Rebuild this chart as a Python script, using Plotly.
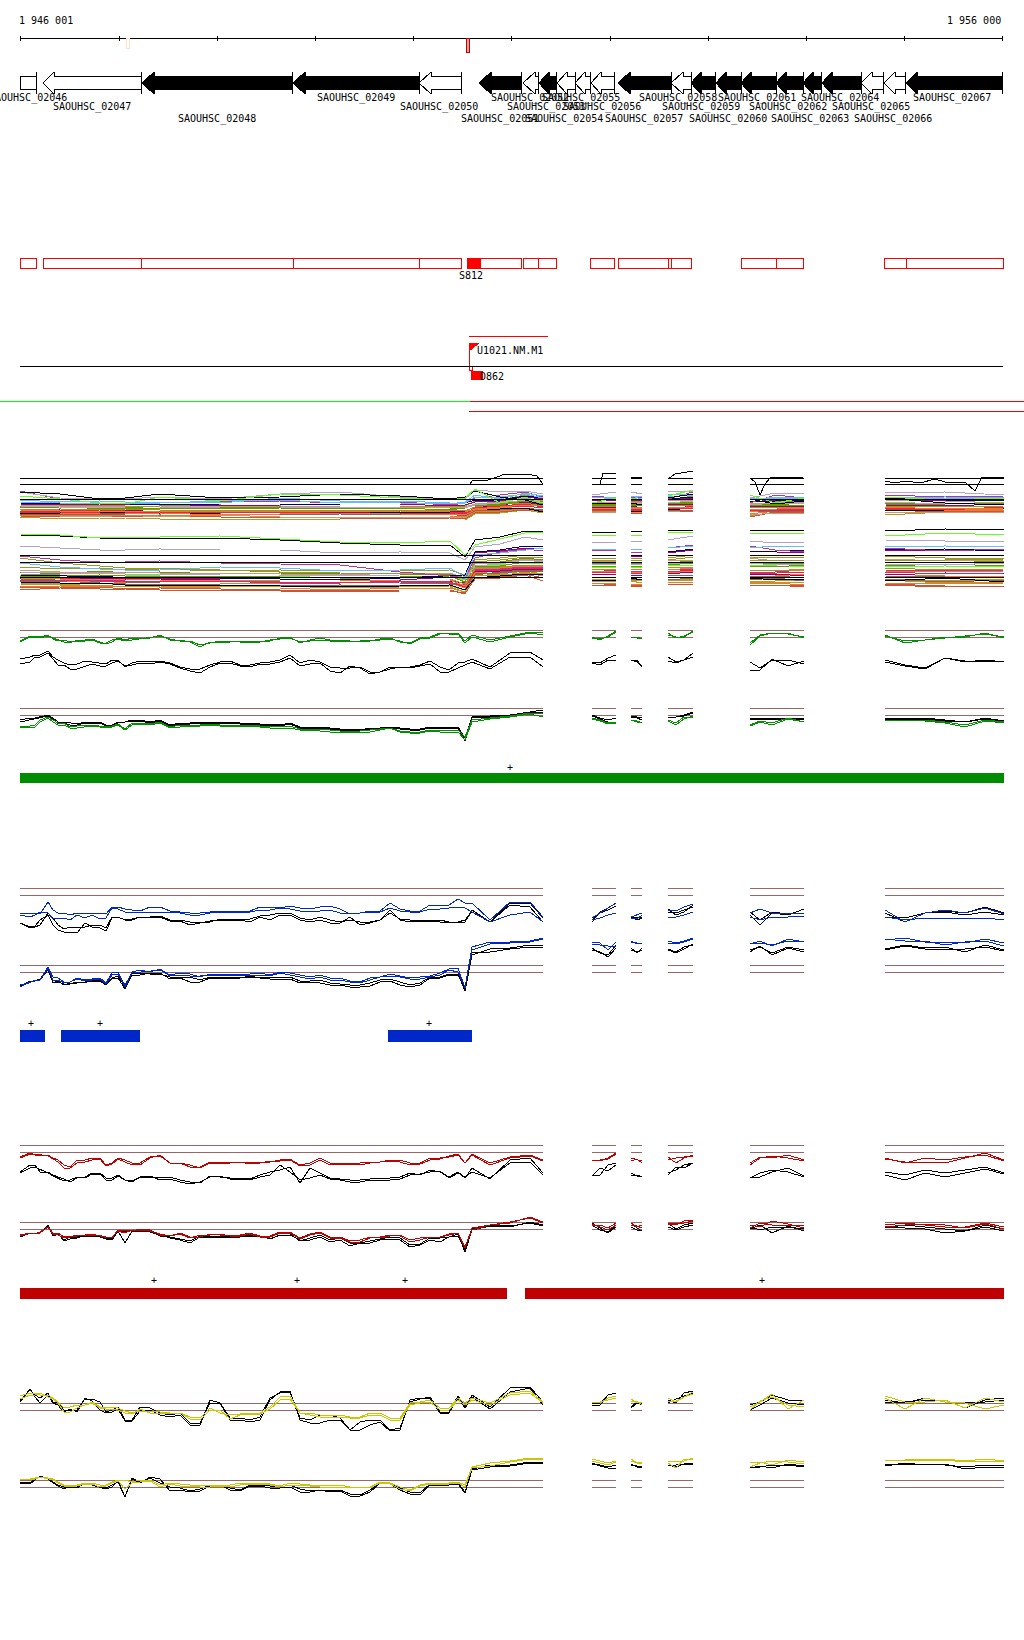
import plotly.graph_objects as go

# ---------- ruler ----------
RULER_TICKS = [20, 119, 217, 315, 413, 511, 610, 708, 806, 904, 1002]
RULER_Y = 38
RULER_LABELS = ["1 946 001", "1 956 000"]

# ---------- genes ----------
GENE_NAMES = ["SAOUHSC_020%d" % n for n in range(46, 68)]
GENE_LEFT = [20, 43, 142, 293, 419, 479, 523, 539, 557, 575, 591, 618, 671, 691, 716, 741, 776, 803, 822, 861, 884, 906]
GENE_RIGHT = [36, 141, 292, 419, 461, 521, 538, 556, 575, 590, 614, 671, 691, 715, 741, 776, 803, 821, 861, 883, 905, 1002]
GENE_FILLED = [0, 0, 1, 1, 0, 1, 0, 1, 0, 0, 0, 1, 0, 1, 1, 1, 1, 1, 1, 0, 0, 1]
GENE_HEAD = [0, 11, 12, 12, 12, 12, 12, 10, 10, 10, 10, 12, 12, 10, 10, 10, 10, 10, 10, 11, 11, 11]
GENE_LABEL_X = [67, 53, 178, 317, 400, 461, 491, 507, 525, 542, 563, 605, 639, 662, 689, 718, 749, 771, 801, 832, 854, 913]
GENE_LABEL_Y = [98, 107, 119]

# ---------- red boxes track ----------
BOX_LEFT = [20, 43, 141, 293, 419, 467, 523, 538, 590, 618, 668, 671, 741, 776, 884, 906]
BOX_RIGHT = [36, 141, 293, 419, 461, 521, 538, 556, 614, 668, 671, 691, 776, 803, 906, 1003]
BOX_FILL_RANGE = [467, 480]

# ---------- coloured bars ----------
BAR_GREEN = [[20, 1003]]
BAR_BLUE = [[20, 44], [61, 139], [388, 471]]
BAR_RED = [[20, 506], [525, 1003]]
PLUS_GREEN = [510]
PLUS_BLUE = [31, 100, 429]
PLUS_RED = [154, 297, 405, 762]

# ---------- segments and reference lines ----------
SEG_START = [20, 592, 631, 668, 750, 885]
SEG_END = [543, 616, 642, 693, 804, 1004]
REF_Y = [630, 637, 708, 715, 888, 895, 965, 972, 1145, 1152, 1222, 1229, 1403, 1410, 1480, 1487]
BUNDLE_BLACK_Y = [478, 484, 499, 555, 562, 577]

# ---------- knots of profile tracks ----------
K_LEFT = [20, 30, 40, 48, 58, 70, 85, 100, 112, 125, 140, 160, 180, 200, 220, 240, 260, 280, 300, 320, 340, 360, 380,
          400, 420, 440, 458, 465, 472, 490, 510, 530, 543]
K_MID = [35, 53, 64, 77, 92, 106, 118, 132, 150, 170, 190, 210, 230, 250, 270, 290, 310, 330, 350, 370, 390, 410, 430, 449]
K_RIGHT = [[592, 600, 608, 616], [631, 637, 642], [668, 676, 684, 693], [750, 760, 772, 788, 804],
           [885, 905, 925, 945, 965, 985, 1004]]

# ---------- green panels ----------
G1_BLACK_A = [659,657,655,651,660,665,661,663,660,667,661,661,667,669,662,665,663,660,663,662,668,667,672,667,665,667,663,662,659,667,653,652,660,
              662,663,658,655,660,660,667,657,662,660,653,662,668,660,660,664,660,665,668,658,662,660,662]
G1_BLACK_A_MID = [655,657,663,664,662,664,660,663,662,663,669,665,661,665,662,655,660,667,668,672,667,667,661,670]
G1_BLACK_B = [664,662,657,653,665,669,666,666,663,666,663,662,668,673,663,666,664,662,666,663,673,668,672,667,666,672,668,665,662,669,657,657,667,
              663,665,660,660,660,662,666,661,663,660,657,670,670,659,666,661,662,666,669,658,661,661,662]
G1_BLACK_B_MID = [657,659,665,669,664,666,661,665,664,664,671,667,663,667,664,658,664,671,666,674,669,668,664,672]
G1_GREEN_A = [642,637,638,636,640,643,640,642,642,640,638,635,640,647,642,641,641,638,643,638,640,642,639,642,638,633,634,643,637,642,637,633,635,
              638,639,637,632,637,638,638,633,638,636,632,643,635,633,633,638,635,643,640,637,637,633,638]
G1_GREEN_A_MID = [637,638,642,640,639,644,638,638,638,640,642,642,642,641,641,637,640,640,641,641,638,643,637,634]
G1_GREEN_B = [641,636,637,635,641,642,641,643,640,641,639,636,641,645,641,642,642,639,642,640,641,641,640,641,639,634,633,641,635,640,636,632,632,
              637,640,636,631,637,637,639,635,637,637,631,645,636,633,634,637,636,641,640,638,636,634,637]
G1_GREEN_B_MID = [636,639,640,641,640,643,639,640,637,639,641,643,641,642,640,638,641,641,642,640,639,644,638,633]
G2_BLACK_A = [720,718,717,715,722,723,722,722,725,722,720,720,723,722,723,723,724,725,727,727,729,730,728,728,729,727,727,738,717,716,715,712,710,
              715,718,720,718,716,717,718,717,717,715,712,718,718,718,718,718,719,718,718,720,722,718,721]
G2_BLACK_A_MID = [718,718,722,724,722,725,722,720,722,725,723,722,722,723,724,723,727,728,729,728,727,729,727,727]
G2_BLACK_B = [722,720,718,716,724,725,723,723,726,722,721,721,724,723,724,724,725,726,728,728,730,731,729,729,730,728,728,741,718,717,716,713,712,
              716,719,722,722,717,718,720,718,717,716,713,719,719,719,719,720,720,719,719,721,722,719,722]
G2_BLACK_B_MID = [719,719,723,725,723,726,723,721,723,726,724,723,723,724,725,724,728,729,730,729,728,730,728,728]
G2_GREEN_A = [728,727,722,718,725,728,727,727,727,730,724,723,727,726,726,727,727,728,730,731,732,733,730,732,733,732,732,740,722,719,717,714,717,
              718,720,723,722,720,722,722,720,723,717,717,725,721,723,718,722,720,720,720,722,725,720,722]
G2_GREEN_A_MID = [727,722,725,728,726,728,725,725,725,728,726,725,726,726,728,728,730,732,732,732,728,733,731,732]
G2_GREEN_B = [726,726,720,717,723,727,725,726,726,729,723,722,725,725,725,725,726,727,729,729,731,731,729,731,732,730,730,737,720,718,716,713,714,
              719,721,724,723,720,721,723,721,725,719,716,726,722,725,719,722,721,720,721,723,727,721,723]
G2_GREEN_B_MID = [725,720,723,726,725,727,724,723,724,727,725,724,725,725,726,726,729,730,731,730,728,732,730,730]

# ---------- blue panels ----------
B1_BLACK_A = [923,928,925,913,925,927,927,925,917,920,917,916,920,922,919,919,916,913,918,917,922,922,920,919,920,920,922,922,910,922,903,903,918,
              922,912,908,903,917,918,917,912,913,910,907,912,920,912,914,913,913,922,913,912,915,912,915]
B1_BLACK_A_MID = [927,918,929,927,925,928,917,920,917,920,922,922,919,919,915,913,920,920,920,922,913,920,920,922]
B1_BLACK_B = [923,927,920,915,930,932,923,928,918,920,917,917,921,923,920,920,917,915,920,920,923,925,920,920,921,922,922,920,912,922,905,907,922,
              920,913,910,906,916,920,918,909,915,912,905,915,925,913,915,909,917,918,913,911,913,907,913]
B1_BLACK_B_MID = [926,925,932,933,927,931,917,919,918,921,925,921,921,922,920,915,922,923,917,923,910,922,921,923]
B1_BLUE_A = [913,913,914,902,913,915,913,913,907,909,911,907,912,913,911,911,907,908,908,907,909,913,911,909,911,906,899,903,903,920,902,902,917,
             918,913,908,903,917,915,913,910,911,907,904,913,909,913,913,913,910,922,913,910,913,908,914]
B1_BLUE_A_MID = [913,910,913,913,913,914,907,910,907,911,913,912,911,911,907,906,909,906,914,911,903,911,905,905]
B1_BLUE_B = [915,917,912,913,918,920,918,919,908,912,912,912,913,915,912,912,910,908,911,911,913,913,912,911,912,909,907,908,912,922,915,912,922,
             920,918,915,913,918,919,915,917,917,915,912,917,920,917,917,916,917,920,918,918,919,918,920]
B1_BLUE_B_MID = [915,919,918,915,915,918,909,912,912,912,915,913,912,912,910,909,911,910,913,912,908,912,909,908]
B2_BLACK_A = [987,982,980,970,982,984,983,980,978,987,973,974,977,980,977,977,977,977,981,980,984,985,980,982,983,977,974,991,955,949,948,945,945,
              948,953,955,945,948,953,948,949,952,947,945,950,947,953,947,950,950,946,949,950,949,947,951]
B2_BLACK_A_MID = [980,982,984,982,980,984,976,974,974,977,977,977,977,977,977,977,981,983,985,983,979,985,977,974]
B2_BLACK_B = [986,981,979,969,981,983,982,981,979,989,975,973,978,982,978,978,978,980,983,983,985,987,982,985,985,978,975,989,953,952,949,947,947,
              950,952,957,948,950,952,950,950,953,949,944,952,946,955,948,952,949,945,948,947,952,945,950]
B2_BLACK_B_MID = [981,983,985,983,981,985,978,975,973,979,982,978,979,976,979,979,982,985,987,986,981,987,978,975]
B2_BLUE_A = [987,982,980,967,978,982,980,978,973,987,970,969,973,977,974,974,973,972,975,975,978,982,977,976,977,973,968,988,947,942,942,941,938,
             942,943,950,942,942,943,943,941,943,941,938,944,941,946,939,942,939,941,941,945,942,941,946]
B2_BLUE_A_MID = [980,977,982,978,979,983,972,972,972,975,974,974,974,974,975,973,977,978,981,978,974,978,976,969]
B2_BLUE_B = [985,982,980,968,980,982,981,979,975,985,972,970,975,976,975,975,975,973,977,977,980,983,977,977,979,975,972,987,950,944,943,942,939,
             944,945,946,946,941,944,943,943,944,942,939,943,943,945,941,941,940,938,942,942,943,939,943]
B2_BLUE_B_MID = [981,980,983,979,980,984,974,973,971,976,976,975,975,975,976,975,979,980,982,980,976,979,977,970]

# ---------- red panels ----------
R1_BLACK_A = [1172,1165,1172,1172,1177,1182,1177,1173,1178,1180,1177,1178,1180,1183,1177,1178,1175,1170,1183,1173,1179,1180,1178,1177,1175,1172,1172,1178,1168,1179,1160,1158,1173,
              1176,1175,1165,1163,1173,1176,1177,1173,1170,1165,1163,1178,1173,1170,1172,1177,1172,1175,1170,1173,1170,1167,1173]
R1_BLACK_A_MID = [1165,1175,1179,1178,1173,1178,1175,1181,1177,1177,1182,1176,1178,1179,1172,1167,1168,1178,1180,1179,1178,1173,1170,1177]
R1_BLACK_B = [1173,1168,1169,1173,1178,1180,1178,1174,1180,1180,1177,1180,1182,1182,1176,1179,1177,1165,1180,1175,1180,1182,1180,1179,1174,1171,1173,1177,1172,1178,1163,1162,1175,
              1176,1168,1171,1165,1175,1175,1177,1175,1167,1168,1163,1177,1177,1172,1168,1176,1175,1180,1173,1177,1173,1169,1174]
R1_BLACK_B_MID = [1167,1176,1181,1177,1174,1180,1176,1182,1176,1179,1184,1177,1179,1180,1175,1172,1178,1179,1182,1180,1180,1175,1172,1178]
R1_RED_A = [1157,1153,1156,1155,1160,1167,1160,1158,1163,1160,1165,1155,1163,1167,1162,1162,1163,1160,1165,1158,1163,1163,1162,1160,1163,1158,1155,1163,1154,1163,1157,1155,1160,
            1160,1161,1158,1153,1158,1160,1161,1157,1163,1158,1155,1163,1157,1158,1155,1160,1158,1163,1158,1160,1157,1155,1161]
R1_RED_A_MID = [1155,1158,1165,1160,1158,1165,1158,1163,1158,1163,1167,1162,1162,1162,1162,1159,1163,1163,1163,1162,1160,1163,1158,1157]
R1_RED_B = [1158,1154,1155,1156,1162,1168,1162,1159,1164,1162,1163,1156,1163,1168,1163,1162,1163,1161,1166,1160,1164,1165,1162,1162,1164,1159,1154,1163,1155,1165,1158,1156,1161,
            1161,1160,1159,1154,1161,1159,1163,1160,1158,1157,1156,1165,1158,1156,1158,1161,1159,1162,1162,1163,1158,1153,1160]
R1_RED_B_MID = [1154,1159,1168,1163,1160,1166,1159,1165,1157,1163,1165,1163,1163,1164,1161,1160,1165,1165,1164,1163,1161,1165,1160,1156]
R2_BLACK_A = [1237,1233,1233,1226,1234,1237,1236,1237,1239,1232,1230,1236,1239,1236,1236,1237,1237,1233,1241,1235,1238,1243,1239,1238,1244,1238,1234,1252,1230,1226,1227,1222,1225,
              1225,1230,1232,1225,1227,1230,1230,1223,1229,1225,1223,1227,1230,1227,1227,1229,1228,1225,1227,1229,1231,1225,1229]
R2_BLACK_A_MID = [1234,1236,1240,1237,1236,1238,1231,1230,1231,1237,1241,1236,1237,1235,1237,1234,1238,1240,1243,1241,1237,1245,1238,1237]
R2_BLACK_B = [1237,1233,1233,1225,1233,1239,1235,1237,1240,1243,1231,1235,1240,1237,1237,1237,1236,1235,1240,1237,1240,1243,1240,1240,1245,1242,1236,1250,1229,1225,1226,1223,1226,
              1223,1228,1233,1227,1223,1228,1231,1227,1230,1227,1225,1229,1225,1233,1226,1231,1227,1228,1229,1233,1231,1227,1231]
R2_BLACK_B_MID = [1234,1235,1241,1238,1236,1239,1231,1231,1232,1238,1243,1237,1238,1236,1239,1235,1240,1242,1246,1243,1239,1247,1240,1237]
R2_RED_A = [1235,1233,1233,1227,1233,1236,1235,1236,1238,1230,1229,1235,1233,1237,1235,1235,1236,1232,1238,1232,1237,1240,1238,1235,1238,1237,1233,1248,1228,1225,1223,1217,1222,
            1224,1227,1230,1225,1223,1227,1225,1223,1225,1221,1220,1228,1223,1225,1225,1225,1225,1223,1225,1227,1227,1223,1227]
R2_RED_A_MID = [1233,1233,1237,1236,1234,1237,1230,1231,1230,1236,1237,1234,1236,1233,1236,1232,1234,1237,1241,1237,1236,1240,1237,1235]
R2_RED_B = [1236,1233,1232,1227,1235,1237,1236,1235,1237,1233,1230,1234,1234,1235,1234,1236,1237,1233,1239,1233,1238,1242,1237,1236,1240,1237,1233,1247,1230,1225,1222,1218,1223,
            1225,1225,1228,1223,1225,1226,1228,1225,1223,1223,1221,1225,1227,1221,1224,1228,1227,1225,1224,1225,1228,1224,1229]
R2_RED_B_MID = [1234,1234,1238,1235,1235,1238,1231,1230,1231,1236,1238,1235,1236,1234,1237,1233,1235,1238,1242,1238,1235,1242,1237,1234]

# ---------- yellow panels ----------
Y1_BLACK_A = [1400,1390,1398,1393,1403,1410,1399,1402,1410,1420,1407,1413,1413,1423,1403,1418,1417,1393,1418,1415,1418,1422,1420,1428,1399,1412,1396,1407,1395,1407,1388,1387,1402,
              1403,1403,1395,1393,1407,1402,1405,1400,1403,1393,1391,1405,1402,1395,1400,1400,1402,1402,1400,1400,1408,1400,1398]
Y1_BLACK_A_MID = [1395,1402,1410,1410,1399,1412,1407,1420,1408,1415,1423,1403,1418,1420,1398,1392,1420,1415,1430,1420,1430,1402,1397,1412]
Y1_BLACK_B = [1402,1389,1403,1395,1405,1409,1398,1410,1412,1421,1411,1415,1415,1425,1403,1420,1420,1392,1420,1423,1420,1430,1422,1430,1398,1413,1398,1408,1397,1409,1392,1388,1405,
              1405,1405,1395,1393,1408,1403,1403,1403,1399,1396,1393,1410,1405,1398,1403,1405,1400,1403,1398,1402,1403,1402,1400]
Y1_BLACK_B_MID = [1397,1403,1412,1412,1401,1413,1409,1421,1410,1417,1425,1400,1420,1422,1400,1391,1423,1420,1430,1425,1431,1400,1398,1413]
Y1_YELLOW_A = [1396,1393,1395,1395,1402,1407,1405,1407,1407,1411,1411,1412,1413,1418,1413,1414,1413,1397,1413,1415,1415,1417,1413,1418,1402,1408,1398,1403,1398,1403,1393,1391,1402,
               1402,1403,1398,1396,1399,1403,1402,1398,1402,1397,1394,1407,1402,1394,1409,1400,1398,1409,1398,1402,1403,1409,1405]
Y1_YELLOW_A_MID = [1393,1398,1408,1405,1402,1407,1408,1413,1411,1413,1417,1408,1415,1413,1407,1396,1413,1415,1417,1413,1418,1403,1400,1408]
Y1_YELLOW_B = [1399,1395,1393,1397,1403,1412,1405,1408,1409,1413,1409,1413,1413,1420,1410,1415,1414,1400,1413,1417,1417,1418,1415,1420,1403,1410,1400,1405,1400,1405,1395,1393,1403,
               1403,1402,1400,1398,1401,1401,1405,1402,1401,1397,1392,1410,1401,1397,1405,1407,1396,1402,1402,1400,1408,1398,1402]
Y1_YELLOW_B_MID = [1395,1399,1412,1408,1403,1409,1410,1414,1413,1414,1419,1410,1419,1414,1409,1399,1415,1417,1418,1415,1420,1405,1402,1410]
Y2_BLACK_A = [1482,1483,1477,1478,1485,1487,1484,1487,1485,1497,1482,1483,1488,1489,1486,1490,1485,1487,1489,1490,1490,1495,1483,1488,1493,1485,1483,1492,1469,1465,1465,1462,1463,
              1464,1465,1467,1465,1465,1466,1467,1465,1465,1464,1464,1467,1467,1465,1465,1467,1465,1464,1464,1465,1467,1465,1466]
Y2_BLACK_A_MID = [1479,1482,1487,1487,1484,1488,1482,1478,1478,1487,1491,1485,1488,1485,1486,1485,1491,1490,1494,1490,1484,1492,1484,1484]
Y2_BLACK_B = [1483,1484,1476,1479,1486,1486,1483,1488,1487,1497,1483,1479,1490,1491,1485,1491,1486,1488,1492,1490,1491,1496,1483,1490,1495,1486,1484,1493,1470,1467,1466,1463,1464,
              1463,1466,1468,1468,1464,1467,1467,1465,1467,1464,1463,1468,1466,1468,1464,1466,1466,1463,1465,1464,1469,1467,1468]
Y2_BLACK_B_MID = [1480,1483,1489,1488,1485,1489,1481,1479,1477,1491,1492,1486,1490,1486,1488,1487,1492,1492,1496,1492,1484,1494,1485,1485]
Y2_YELLOW_A = [1479,1479,1477,1478,1482,1485,1483,1485,1482,1480,1480,1485,1484,1485,1485,1483,1483,1486,1484,1485,1485,1487,1482,1487,1485,1483,1482,1485,1467,1463,1461,1458,1458,
               1459,1461,1463,1461,1459,1463,1462,1462,1461,1461,1458,1463,1462,1465,1460,1462,1460,1460,1459,1459,1461,1459,1461]
Y2_YELLOW_A_MID = [1478,1479,1485,1485,1483,1485,1480,1482,1480,1483,1485,1485,1485,1483,1484,1483,1485,1485,1487,1487,1483,1490,1483,1483]
Y2_YELLOW_B = [1480,1479,1477,1479,1483,1486,1484,1487,1483,1489,1482,1487,1486,1487,1486,1485,1484,1487,1485,1487,1487,1487,1483,1489,1486,1484,1483,1487,1468,1466,1462,1459,1459,
               1461,1463,1465,1462,1461,1463,1463,1463,1468,1459,1459,1467,1463,1461,1462,1464,1461,1460,1461,1460,1462,1461,1462]
Y2_YELLOW_B_MID = [1479,1480,1486,1486,1484,1486,1481,1483,1481,1484,1486,1487,1487,1484,1485,1485,1486,1487,1488,1488,1484,1491,1484,1484]

# ---------- multicolour bundles ----------
BK_LEFT = [20, 60, 100, 125, 160, 220, 280, 340, 400, 450, 465, 475, 500, 525, 543]
BK_RIGHT = [[592, 616], [631, 642], [668, 693], [750, 775, 804], [885, 945, 1004]]
PALETTE = {"black": "#000000", "green": "#66FF22", "lilac": "#B3A3CF", "sky": "#66BBFF", "magenta": "#BB3399",
           "navy": "#000066", "purple": "#990077", "olive": "#999922", "tan": "#CC9977", "leaf": "#669900",
           "orange": "#EE7733", "crimson": "#EE2244", "brown": "#886655", "brick": "#CC5533", "gold": "#BB9922"}

A1_BLACK = [492,494,499,498,494,498,497,494,496,499,497,491,497,500,505, 503,503,503,505,498,494,499,504,501,498,503,505]
A1_GREEN = [496,499,503,504,497,501,494,495,498,500,498,489,503,497,503, 503,498,498,500,496,490,495,503,498,497,500,498]
A1_LILAC = [492,498,499,499,497,499,494,492,497,500,499,490,492,491,494, 495,492,492,494,491,491,498,493,494,493,492,495]
A1_SKY = [500,502,501,502,502,503,498,501,503,504,502,495,499,493,496, 498,497,497,496,494,494,500,497,497,498,497,498]
A1_MAGENTA = [491,499,503,503,503,502,501,503,502,505,503,498,495,492,497, 496,498,497,498,499,492,503,495,498,495,497,496]
A1_NAVY = [503,504,503,504,505,504,504,505,505,505,503,500,500,496,498, 499,499,498,500,499,497,501,501,500,498,500,501]
A1_OLIVE = [504,505,505,506,506,505,506,506,506,507,506,501,500,495,500, 501,500,502,501,500,496,499,501,502,500,499,500]
A1_TAN = [505,506,506,506,507,507,506,507,507,508,507,504,502,498,501, 502,503,503,502,501,500,503,503,502,500,501,503]
A1_LILAC2 = [506,507,507,507,506,507,507,507,507,508,508,505,503,500,503, 504,503,504,503,503,501,505,503,504,502,504,502]
A1_LEAF = [508,507,508,508,508,509,508,509,508,510,508,505,505,501,504, 505,505,505,506,504,503,505,506,505,504,505,505]
A1_OLIVE2 = [510,509,510,509,510,510,510,510,510,510,511,507,504,503,506, 506,507,507,507,506,505,508,507,507,506,507,506]
A1_ORANGE = [510,511,511,512,511,511,511,512,511,512,512,509,507,505,506, 508,508,508,509,508,507,510,509,508,507,509,508]
A1_CRIMSON = [511,511,510,511,511,512,513,511,512,512,513,508,506,504,507, 510,509,510,510,509,508,509,510,509,509,510,507]
A1_PURPLE = [509,510,512,510,512,510,510,513,511,512,511,507,505,502,505, 507,507,506,508,505,504,507,506,506,505,506,504]
A1_BLACK2 = [513,513,512,512,514,513,512,512,512,512,514,510,509,508,512, 510,509,511,511,510,508,510,511,510,511,510,508]
A1_BROWN = [514,514,514,514,513,514,515,514,515,514,516,511,510,508,510, 510,510,509,511,510,510,512,511,511,508,510,509]
A1_ORANGE2 = [515,515,515,516,515,516,516,516,516,516,517,512,511,509,510, 511,511,511,512,510,510,514,511,512,510,511,510]
A1_BRICK = [516,517,516,517,516,517,518,518,519,518,519,513,512,510,511, 512,512,513,513,511,511,517,512,512,513,511,511]
A1_GOLD = [517,519,518,518,519,519,519,520,520,520,520,514,513,510,513, 513,512,512,514,512,511,516,512,513,515,512,510]
A1_E1 = [512,512,513,513,512,513,512,513,513,513,514,509,507,506,508, 509,509,509,510,509,506,511,510,510,508,509,509]
A1_E2 = [507,506,509,507,509,508,507,508,509,509,507,504,504,500,502, 504,504,504,505,503,502,504,505,503,503,503,504]
A1_E3 = [504,505,504,505,504,506,505,504,504,506,505,502,501,497,499, 500,501,500,501,500,498,502,500,501,499,501,499]
A1_E4 = [502,503,503,503,503,501,500,503,501,503,503,497,497,494,498, 497,499,496,499,497,495,498,499,498,497,499,497]
A1_E5 = [512,513,513,514,513,515,514,513,514,515,515,510,508,506,508, 509,510,510,510,509,508,512,509,510,509,510,509]
A1_E6 = [515,516,517,515,517,515,517,517,517,517,518,512,511,509,512, 512,513,512,513,512,510,515,513,514,512,512,512]

A2_BLACK = [535,536,538,538,538,538,540,543,545,545,557,540,537,531,531, 532,533,531,532,531,530,530,530,530,531,529,530]
A2_GREEN = [534,535,538,537,537,536,539,542,543,541,555,545,539,533,532, 535,536,535,535,533,532,534,533,533,536,533,535]
A2_LILAC = [546,548,550,550,549,550,550,553,552,553,560,547,544,537,540, 542,543,541,541,540,536,541,543,542,540,541,542]
A2_SKY = [563,567,569,570,570,567,568,571,570,568,577,555,553,550,548, 549,550,549,550,548,546,548,546,546,547,546,547]
A2_MAGENTA = [556,560,562,562,561,563,564,565,572,576,578,558,552,549,551, 550,551,552,552,548,545,546,550,552,548,551,549]
A2_NAVY = [575,576,577,577,578,578,579,580,578,576,575,552,550,546,546, 556,555,555,556,552,549,552,551,550,550,549,551]
A2_PURPLE = [577,577,578,578,578,579,579,580,580,577,575,553,551,548,548, 555,556,556,557,553,550,551,552,553,551,550,550]
A2_OLIVE = [558,563,566,568,568,570,572,573,574,574,578,562,560,557,558, 558,559,558,558,558,555,557,558,557,556,558,558]
A2_TAN = [570,572,572,572,573,573,574,575,573,573,578,564,563,559,561, 562,561,562,563,561,560,558,561,560,559,561,560]
A2_LILAC2 = [572,573,573,574,574,575,575,576,575,575,580,566,564,560,562, 565,564,564,565,564,562,563,565,564,564,565,563]
A2_LEAF = [576,576,575,576,576,576,577,577,577,576,582,566,566,562,563, 566,566,566,567,565,563,566,567,565,566,564,566]
A2_GREEN2 = [575,575,576,575,576,577,576,578,577,577,580,566,565,563,564, 567,568,567,568,566,565,565,566,567,567,566,567]
A2_OLIVE2 = [574,575,577,577,577,577,578,578,579,579,584,568,567,565,565, 569,570,569,570,568,567,570,571,569,568,570,569]
A2_ORANGE = [578,579,579,579,580,580,581,581,580,580,586,569,568,566,566, 571,571,572,572,570,568,571,570,571,571,572,571]
A2_RED = [577,578,580,581,581,582,582,583,581,582,587,571,570,568,568, 573,572,574,573,572,570,574,573,572,572,574,573]
A2_CRIMSON = [578,578,578,580,579,580,580,580,581,581,583,572,571,569,570, 575,574,575,576,574,572,575,574,576,575,573,574]
A2_BLACK2 = [582,583,583,585,585,585,586,587,586,585,590,578,576,574,575, 580,581,578,580,578,577,578,580,579,581,578,582]
A2_BROWN = [581,581,583,584,584,585,586,585,586,585,590,574,573,571,572, 577,578,579,580,580,578,580,578,581,579,582,580]
A2_GOLD = [584,585,585,587,586,587,586,588,587,587,592,576,574,571,574, 581,582,581,583,581,580,583,582,583,580,583,582]
A2_ORANGE2 = [586,586,587,586,587,588,588,590,588,588,592,578,576,572,576, 583,584,584,585,583,582,584,583,585,583,584,583]
A2_BRICK = [590,588,589,589,590,590,591,592,591,591,593,579,578,575,581, 585,586,586,587,585,584,586,585,587,585,587,586]
A2_BRICK2 = [588,587,587,589,588,589,590,591,590,590,594,577,577,574,578, 583,585,585,586,584,584,585,586,585,584,586,587]
A2_E1 = [572,574,571,573,572,574,573,574,574,574,579,564,562,558,560, 563,563,563,564,563,561,562,564,563,562,563,561]
A2_E2 = [580,580,581,581,581,581,583,583,582,583,585,570,569,567,567, 572,570,571,571,569,569,572,572,570,570,571,570]
A2_E3 = [580,581,582,582,583,583,583,584,584,583,588,573,571,569,570, 574,575,576,575,573,571,576,576,574,574,576,576]
A2_E4 = [567,569,568,570,569,571,570,571,571,570,575,560,558,555,556, 560,560,560,561,560,557,560,560,561,560,560,559]
A2_E5 = [579,580,581,582,582,581,582,583,583,584,586,575,572,570,571, 577,577,577,578,576,575,577,576,578,576,577,578]
A2_E6 = [583,584,586,584,585,586,587,586,587,586,590,575,575,573,573, 579,580,580,581,579,579,581,581,580,579,581,579]

# extra black curves above bundle 1
CURVE1_X = [[458, 465, 470, 473, 488, 497, 505, 527, 537, 543], [592, 600, 603, 616], [631, 642], [668, 675, 693], [750, 755, 760, 765, 770, 804],
            [885, 895, 905, 920, 935, 945, 965, 975, 982, 1004]]
CURVE1_Y = [[484, 484, 484, 480, 480, 477, 474, 474, 476, 484], [484, 484, 473, 473], [477, 477], [479, 474, 471], [478, 482, 495, 484, 478, 477],
            [481, 483, 481, 483, 479, 482, 482, 491, 477, 477]]

# ---------- transcript-unit annotations ----------
TU_RED_TOP = [469, 548]
TU_RED_BOTTOM = [469, 1024]
TU_GREEN = [0, 470]
TU_RED_MID = [470, 1024]

BLACK, GREEN, BLUE, RED, YELLOW = "#000000", "#009000", "#0028C8", "#BE0000", "#C8C800"
REF_COLOR = "#996666"

fig = go.Figure()


def line(x, y, color, width=1, shape="linear"):
    fig.add_trace(go.Scatter(x=x, y=y, mode="lines", line=dict(color=color, width=width, shape=shape),
                             hoverinfo="skip", showlegend=False))


def poly(x, y, fill, outline):
    fig.add_trace(go.Scatter(x=x, y=y, mode="lines", fill="toself", fillcolor=fill,
                             line=dict(color=outline, width=1), hoverinfo="skip", showlegend=False))


def split_line(values, left_x, right_x, mid=None, mid_x=None):
    n = len(left_x)
    left_pairs = list(zip(left_x, values[:n]))
    if mid is not None:
        assert len(mid) == len(mid_x)
        left_pairs = sorted(left_pairs + list(zip(mid_x, mid)))
    xs = [p[0] for p in left_pairs]
    ys = [p[1] for p in left_pairs]
    i = n
    for seg in right_x:
        xs.append(None)
        ys.append(None)
        xs.extend(seg)
        ys.extend(values[i:i + len(seg)])
        i += len(seg)
    assert i == len(values), (i, len(values))
    return xs, ys


def rect(x0, x1, y0, y1):
    return [x0, x1, x1, x0, x0], [y0, y0, y1, y1, y0]


notes = []


def text(x, y, s, anchor="left"):
    notes.append(dict(x=x, y=y, text=s, showarrow=False, xanchor=anchor, yanchor="middle", xref="x", yref="y",
                      font=dict(family="DejaVu Sans Mono", size=10, color="#000000"),
                      borderpad=0, borderwidth=0))


# ruler
line([RULER_TICKS[0], RULER_TICKS[-1]], [RULER_Y, RULER_Y], BLACK)
for t in RULER_TICKS:
    line([t, t], [RULER_Y - 2, RULER_Y + 3], BLACK)
text(19, 20, RULER_LABELS[0])
text(1001, 20, RULER_LABELS[1], "right")
poly(*rect(126, 129, 38, 48), "#FFFFFF", "#FFE0D0")
poly(*rect(466, 469, 38, 52), "#F0A0A0", "#BE0000")

# genes
for i, name in enumerate(GENE_NAMES):
    l, r, h = GENE_LEFT[i], GENE_RIGHT[i], GENE_HEAD[i]
    color = BLACK if GENE_FILLED[i] else "#FFFFFF"
    if h:
        xs = [l, l + h, l + h, r, r, l + h, l + h, l]
        ys = [83, 72, 76, 76, 89, 89, 94, 83]
    else:
        xs = [l, r, r, l, l]
        ys = [76, 76, 89, 89, 76]
    poly(xs, ys, color, BLACK)
    line([r, r], [72, 94], BLACK)
    row = GENE_LABEL_Y[i % 3]
    text(GENE_LABEL_X[i], row, name, "right" if i == 0 else "left")

# red boxes
for l, r in zip(BOX_LEFT, BOX_RIGHT):
    poly(*rect(l, r, 258, 268), "#FFFFFF", "#FF0000")
poly(*rect(BOX_FILL_RANGE[0], BOX_FILL_RANGE[1], 258, 268), "#FF0000", "#FF0000")
text(459, 275, "S812")

# transcript annotation
line(TU_RED_TOP, [336, 336], "#FF0000")
poly([469, 479, 469, 469], [343, 343, 351, 343], "#FF0000", "#FF0000")
line([469, 469], [343, 370], "#FF0000")
poly(*rect(469, 472, 366, 370), "#FFFFFF", "#FF0000")
line([20, 1003], [366, 366], BLACK)
poly(*rect(471, 482, 371, 379), "#FF0000", "#FF0000")
text(477, 350, "U1021.NM.M1")
text(480, 376, "D862")
line(TU_GREEN, [401, 401], "#00FF00")
line(TU_RED_MID, [401, 401], "#FF0000")
line(TU_RED_BOTTOM, [411, 411], "#FF0000")

# bundles
A1_LINES = [(A1_GOLD, "gold"), (A1_BRICK, "brick"), (A1_E6, "tan"), (A1_ORANGE2, "orange"), (A1_BROWN, "brown"), (A1_BLACK2, "black"),
            (A1_E5, "orange"), (A1_E1, "crimson"), (A1_PURPLE, "purple"), (A1_CRIMSON, "crimson"), (A1_ORANGE, "orange"), (A1_OLIVE2, "olive"), (A1_LEAF, "leaf"),
            (A1_E2, "leaf"), (A1_LILAC2, "lilac"), (A1_TAN, "tan"), (A1_OLIVE, "olive"), (A1_E3, "purple"), (A1_NAVY, "navy"), (A1_MAGENTA, "magenta"),
            (A1_E4, "sky"), (A1_SKY, "sky"), (A1_LILAC, "lilac"), (A1_BLACK, "black"), (A1_GREEN, "green")]
A2_LINES = [(A2_BRICK2, "brick"), (A2_BRICK, "brick"), (A2_ORANGE2, "orange"), (A2_GOLD, "gold"), (A2_E6, "gold"), (A2_BROWN, "brown"),
            (A2_BLACK2, "black"), (A2_E3, "orange"), (A2_E5, "brown"), (A2_CRIMSON, "purple"), (A2_E2, "magenta"), (A2_RED, "crimson"), (A2_ORANGE, "orange"), (A2_OLIVE2, "olive"),
            (A2_GREEN2, "green"), (A2_LEAF, "leaf"), (A2_E1, "leaf"), (A2_LILAC2, "lilac"), (A2_TAN, "tan"), (A2_E4, "olive"), (A2_OLIVE, "olive"),
            (A2_PURPLE, "purple"), (A2_NAVY, "navy"), (A2_MAGENTA, "magenta"), (A2_SKY, "sky"), (A2_LILAC, "lilac"),
            (A2_BLACK, "black"), (A2_GREEN, "green")]
for values, c in A1_LINES + A2_LINES:
    xs, ys = split_line(values, BK_LEFT, BK_RIGHT)
    line(xs, ys, PALETTE[c])

for y in BUNDLE_BLACK_Y:
    xs, ys = [], []
    for a, b in zip(SEG_START, SEG_END):
        xs += [a, b, None]
        ys += [y, y, None]
    line(xs, ys, BLACK)
xs, ys = [], []
for a, b in zip(CURVE1_X, CURVE1_Y):
    xs += a + [None]
    ys += b + [None]
line(xs, ys, BLACK)

# reference lines
for y in REF_Y:
    xs, ys = [], []
    for a, b in zip(SEG_START, SEG_END):
        xs += [a, b, None]
        ys += [y, y, None]
    line(xs, ys, REF_COLOR)

# profile panels
PANELS = [
    (G1_BLACK_A, G1_BLACK_A_MID, BLACK), (G1_BLACK_B, G1_BLACK_B_MID, BLACK), (G1_GREEN_A, G1_GREEN_A_MID, GREEN), (G1_GREEN_B, G1_GREEN_B_MID, GREEN),
    (G2_BLACK_A, G2_BLACK_A_MID, BLACK), (G2_BLACK_B, G2_BLACK_B_MID, BLACK), (G2_GREEN_A, G2_GREEN_A_MID, GREEN), (G2_GREEN_B, G2_GREEN_B_MID, GREEN),
    (B1_BLACK_A, B1_BLACK_A_MID, BLACK), (B1_BLACK_B, B1_BLACK_B_MID, BLACK), (B1_BLUE_A, B1_BLUE_A_MID, BLUE), (B1_BLUE_B, B1_BLUE_B_MID, BLUE),
    (B2_BLACK_A, B2_BLACK_A_MID, BLACK), (B2_BLACK_B, B2_BLACK_B_MID, BLACK), (B2_BLUE_A, B2_BLUE_A_MID, BLUE), (B2_BLUE_B, B2_BLUE_B_MID, BLUE),
    (R1_BLACK_A, R1_BLACK_A_MID, BLACK), (R1_BLACK_B, R1_BLACK_B_MID, BLACK), (R1_RED_A, R1_RED_A_MID, RED), (R1_RED_B, R1_RED_B_MID, RED),
    (R2_BLACK_A, R2_BLACK_A_MID, BLACK), (R2_BLACK_B, R2_BLACK_B_MID, BLACK), (R2_RED_A, R2_RED_A_MID, RED), (R2_RED_B, R2_RED_B_MID, RED),
    (Y1_BLACK_A, Y1_BLACK_A_MID, BLACK), (Y1_BLACK_B, Y1_BLACK_B_MID, BLACK), (Y1_YELLOW_A, Y1_YELLOW_A_MID, YELLOW), (Y1_YELLOW_B, Y1_YELLOW_B_MID, YELLOW),
    (Y2_BLACK_A, Y2_BLACK_A_MID, BLACK), (Y2_BLACK_B, Y2_BLACK_B_MID, BLACK), (Y2_YELLOW_A, Y2_YELLOW_A_MID, YELLOW), (Y2_YELLOW_B, Y2_YELLOW_B_MID, YELLOW),
]
for values, mid, c in PANELS:
    xs, ys = split_line(values, K_LEFT, K_RIGHT, mid, K_MID)
    line(xs, ys, c)

# bars
for a, b in BAR_GREEN:
    poly(*rect(a, b, 773, 782), "#008C00", "#008C00")
for a, b in BAR_BLUE:
    poly(*rect(a, b, 1030, 1041), "#0028C8", "#0028C8")
for a, b in BAR_RED:
    poly(*rect(a, b, 1288, 1298), "#BE0000", "#BE0000")
for x in PLUS_GREEN:
    text(x, 767, "+", "center")
for x in PLUS_BLUE:
    text(x, 1023, "+", "center")
for x in PLUS_RED:
    text(x, 1280, "+", "center")

fig.update_layout(
    width=1024, height=1640, autosize=False,
    margin=dict(l=0, r=0, t=0, b=0, pad=0),
    paper_bgcolor="#FFFFFF", plot_bgcolor="#FFFFFF",
    xaxis=dict(range=[0, 1024], visible=False, fixedrange=True),
    yaxis=dict(range=[1640, 0], visible=False, fixedrange=True),
    annotations=notes,
    showlegend=False,
)

POST = ("document.body.style.margin='0';"
        "document.querySelectorAll('.scatterlayer path').forEach(function(p){p.style.shapeRendering='crispEdges';});")
fig.write_html("out.html", post_script=POST, config={"displayModeBar": False})
